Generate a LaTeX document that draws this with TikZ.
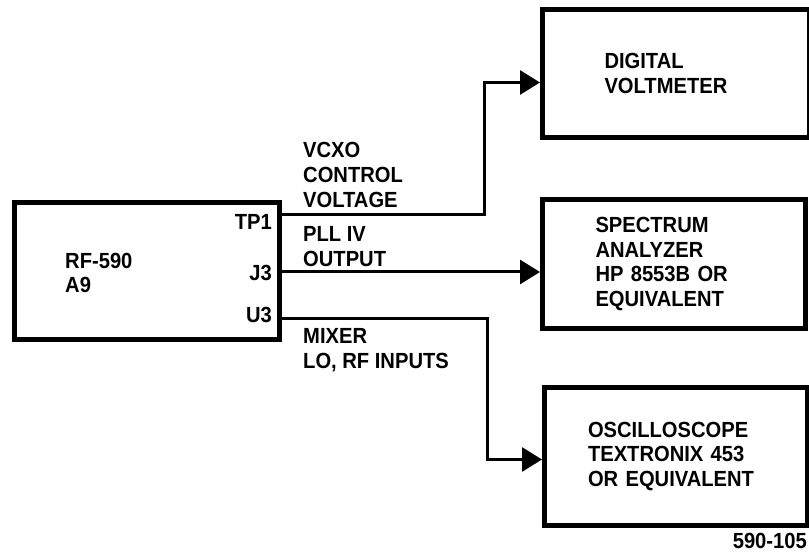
\documentclass[tikz,border=0pt]{standalone}
\usepackage{fontspec}
\setmainfont{Liberation Sans}[FakeStretch=0.92]
\usepackage{tikz}
\usetikzlibrary{arrows.meta, positioning}

\begin{document}
\begin{tikzpicture}[x=1bp, y=-1bp, >={Triangle[length=20bp, width=24bp]},
    font=\fontsize{22}{25}\selectfont\bfseries,
    unit/.style={draw, line width=5bp, align=left, inner sep=0pt, anchor=north west},
    feed/.style={line width=3bp, ->},
    lbl/.style={align=left, inner sep=0pt}]
  \useasboundingbox (0,0) rectangle (809,554);

  % Pruefling
  \node[unit, minimum width=265bp, minimum height=137bp] (rf) at (12,200) {};
  \node[lbl, anchor=west] (rfname) at (65,273) {RF-590\\A9};
  \node[lbl, anchor=east] (tp1) at (272,222) {TP1};
  \node[lbl, anchor=east] (j3) at (272,273) {J3};
  \node[lbl, anchor=east] (u3) at (272,315) {U3};

  % Messgeraete
  \node[unit, text width=143bp, minimum width=267bp, minimum height=128bp] (dvm) at (540,7) {DIGITAL\\VOLTMETER};
  \node[unit, text width=157bp, minimum width=263bp, minimum height=129bp] (sa) at (540,197) {SPECTRUM\\ANALYZER\\HP 8553B OR\\EQUIVALENT};
  \node[unit, text width=176bp, minimum width=263bp, minimum height=138bp] (osc) at (542,385) {OSCILLOSCOPE\\TEXTRONIX 453\\OR EQUIVALENT};

  % Anschluesse
  \coordinate (tp1out) at (rf.east |- 0,215);
  \coordinate (j3out) at (rf.east |- 0,272);
  \coordinate (u3out) at (rf.east |- 0,318);

  \draw[feed] (tp1out) -| ([xshift=-56bp, yshift=-9bp]dvm.west) -- ([yshift=-9bp]dvm.west);
  \draw[feed] (j3out) -- (j3out -| sa.west);
  \draw[feed] (u3out) -| ([xshift=-55bp, yshift=-3bp]osc.west) -- ([yshift=-3bp]osc.west);

  % Beschriftung der Leitungen
  \node[lbl, anchor=west] (vcxo) at (303,175) {VCXO\\CONTROL\\VOLTAGE};
  \node[lbl, anchor=west] (pll) at (303,247) {PLL IV\\OUTPUT};
  \node[lbl, anchor=west] (mixer) at (303,350) {MIXER\\LO, RF INPUTS};

  \node[lbl, anchor=east] (fig) at (807,541) {590-105};
\end{tikzpicture}
\end{document}
